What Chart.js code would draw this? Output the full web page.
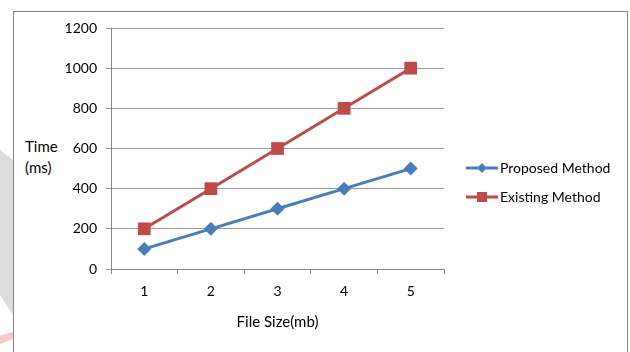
<!DOCTYPE html>
<html lang="en">
<head>
  <meta charset="UTF-8">
  <title>Time vs File Size</title>
  <script src="https://cdn.jsdelivr.net/npm/chart.js"></script>
  <style>
    body {
      margin: 0;
      background: #fff;
      font-family: 'Lato', sans-serif;
    }
    .wrap {
      position: relative;
      width: 630px;
      height: 352px;
      overflow: hidden;
    }
    /* faded watermark shapes on the left edge */
    .mark-grey {
      position: absolute;
      left: 0; top: 150px;
      width: 13px; height: 165px;
      background: #dcdcdc;
      clip-path: polygon(0 0, 100% 6%, 100% 100%, 0 88%);
    }
    .mark-pink {
      position: absolute;
      left: 0; top: 332px;
      width: 13px; height: 12px;
      background: #f6c9cc;
      clip-path: polygon(0 30%, 100% 0, 100% 60%, 0 100%);
    }
    .frame {
      position: absolute;
      left: 13px; top: 11px;
      width: 613px; height: 360px;
      border: 1px solid #868686;
    }
    .ytitle {
      position: absolute;
      left: 25px; top: 136px;
      font-size: 15px;
      line-height: 21px;
      color: #000;
    }
    canvas {
      position: absolute;
      left: 0; top: 0;
    }
  </style>
</head>
<body>
  <div class="wrap">
    <div class="mark-grey"></div>
    <div class="mark-pink"></div>
    <div class="frame"></div>
    <div class="ytitle">Time<br>(ms)</div>
    <canvas id="chart" width="630" height="352"></canvas>
  </div>

  <script>
    // dati
    const fileSizes = ['1', '2', '3', '4', '5'];
    const proposedMethod = [100, 200, 300, 400, 500];
    const existingMethod = [200, 400, 600, 800, 1000];
    const yTicks = [0, 200, 400, 600, 800, 1000, 1200];

    const blue = '#4a7ebb';
    const red = '#be4b48';
    const font = { family: 'Lato', size: 14 };

    // legenda a destra: linea + marcatore, come nell'originale
    const sideLegend = {
      id: 'sideLegend',
      afterDraw(chart) {
        const ctx = chart.ctx;
        chart.data.datasets.forEach((ds, i) => {
          const y = 168 + i * 29;
          ctx.save();
          ctx.strokeStyle = ds.borderColor;
          ctx.lineWidth = 3;
          ctx.beginPath();
          ctx.moveTo(466, y);
          ctx.lineTo(498, y);
          ctx.stroke();
          ctx.fillStyle = ds.backgroundColor;
          ctx.beginPath();
          if (ds.pointStyle === 'rectRot') {
            ctx.moveTo(482, y - 5);
            ctx.lineTo(487, y);
            ctx.lineTo(482, y + 5);
            ctx.lineTo(477, y);
          } else {
            ctx.rect(477, y - 5, 10, 10);
          }
          ctx.fill();
          ctx.fillStyle = '#000';
          ctx.font = '14px Lato';
          ctx.textBaseline = 'middle';
          ctx.fillText(ds.label, 500, y);
          ctx.restore();
        });
      }
    };

    new Chart(document.getElementById('chart'), {
      type: 'line',
      data: {
        labels: fileSizes,
        datasets: [
          {
            label: 'Proposed Method',
            data: proposedMethod,
            borderColor: blue,
            backgroundColor: blue,
            borderWidth: 3,
            pointStyle: 'rectRot',
            pointRadius: 7,
            pointBorderWidth: 0,
            tension: 0
          },
          {
            label: 'Existing Method',
            data: existingMethod,
            borderColor: red,
            backgroundColor: red,
            borderWidth: 3,
            pointStyle: 'rect',
            pointRadius: 9,
            pointBorderWidth: 0,
            tension: 0
          }
        ]
      },
      options: {
        responsive: false,
        animation: false,
        layout: { padding: { left: 0, right: 186, top: 28, bottom: 0 } },
        plugins: {
          legend: { display: false },
          tooltip: { enabled: false }
        },
        scales: {
          x: {
            offset: true,
            grid: {
              offset: true,
              drawOnChartArea: false,
              tickLength: 5,
              color: '#868686'
            },
            border: { color: '#868686' },
            ticks: { padding: 9, color: '#000', font: font },
            title: {
              display: true,
              text: 'File Size(mb)',
              color: '#000',
              padding: { top: 0, bottom: 21 },
              font: { family: 'Lato', size: 15 }
            },
            afterFit(scale) { scale.height = 83; }
          },
          y: {
            min: 0,
            max: 1200,
            afterBuildTicks(scale) {
              scale.ticks = yTicks.map(v => ({ value: v }));
            },
            grid: { tickLength: 5, color: '#9a9a9a' },
            border: { color: '#868686' },
            ticks: {
              padding: 9,
              color: '#000',
              font: font,
              callback: v => String(v)
            },
            afterFit(scale) { scale.width = 111; }
          }
        }
      },
      plugins: [sideLegend]
    });
  </script>
</body>
</html>
